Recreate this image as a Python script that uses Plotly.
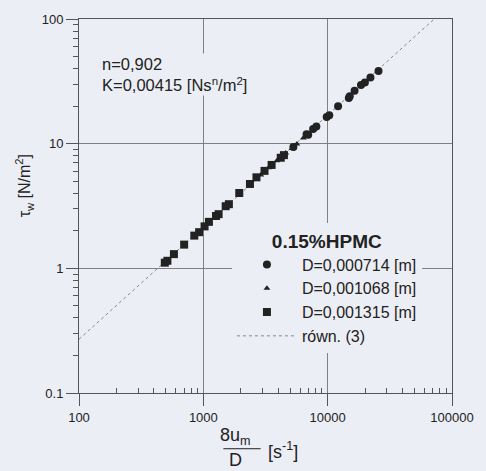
import plotly.graph_objects as go

# --- data ---
sq_x = [490, 514, 580, 701, 846, 925, 1023, 1109, 1264, 1327, 1513, 1605, 1945, 2371, 2675, 3106, 3542, 4194, 4449]
sq_y = [1.11, 1.15, 1.30, 1.55, 1.83, 1.95, 2.17, 2.36, 2.63, 2.72, 3.15, 3.27, 4.02, 4.75, 5.37, 6.05, 6.75, 7.71, 8.09]

tr_x = [2900, 3350, 3900, 4600, 5168, 5653, 6375]
tr_y = [5.6, 6.4, 7.3, 8.4, 9.14, 9.95, 11.1]

ci_x = [5300, 6768, 6975, 7640, 8110, 9820, 10300, 12130, 14790, 15060, 16460, 18540, 19920, 22080, 25640]
ci_y = [9.4, 11.9, 11.8, 13.1, 13.7, 16.4, 16.9, 20.0, 23.2, 24.0, 26.6, 29.5, 30.9, 33.9, 38.3]

fit_x = [100, 72000]
fit_y = [0.27, 100]

labels = ["D=0,000714 [m]", "D=0,001068 [m]", "D=0,001315 [m]", "równ. (3)"]

x_ticks = [100, 1000, 10000, 100000]
x_ticktext = ["100", "1000", "10000", "100000"]
y_ticks = [0.1, 1, 10, 100]
y_ticktext = ["0.1", "1", "10", "100"]
x_minor = [m * 10 ** e for e in (2, 3, 4) for m in range(2, 10)]
y_minor = [m * 10 ** e for e in (-1, 0, 1) for m in range(2, 10)]

BG = "#eceef5"
INK = "#222222"
FONT = "Liberation Sans, Arial, sans-serif"

fig = go.Figure()
fig.add_trace(go.Scatter(x=fit_x, y=fit_y, mode="lines", name=labels[3], legendrank=4,
                         line=dict(color="#888888", width=1, dash="dot")))
fig.add_trace(go.Scatter(x=ci_x, y=ci_y, mode="markers", name=labels[0], legendrank=1,
                         marker=dict(symbol="circle", size=8, color=INK)))
fig.add_trace(go.Scatter(x=tr_x, y=tr_y, mode="markers", name=labels[1], legendrank=2,
                         marker=dict(symbol="triangle-up", size=6, color=INK)))
fig.add_trace(go.Scatter(x=sq_x, y=sq_y, mode="markers", name=labels[2], legendrank=3,
                         marker=dict(symbol="square", size=8, color=INK)))

axis_common = dict(
    type="log", showgrid=True, gridcolor="#808080", gridwidth=1,
    showline=True, linecolor="#555555", linewidth=1, mirror=True,
    ticks="outside", ticklen=12, tickcolor="#555555", tickwidth=1,
    tickfont=dict(family=FONT, size=13, color="#222222"),
    zeroline=False, tickmode="array",
)

fig.update_xaxes(range=[2, 5], tickvals=x_ticks, ticktext=x_ticktext, **axis_common,
                 minor=dict(ticks="inside", ticklen=5, tickcolor="#555555", showgrid=False,
                            tickmode="array", tickvals=x_minor))
fig.update_yaxes(range=[-1, 2], tickvals=y_ticks, ticktext=y_ticktext, **axis_common,
                 minor=dict(ticks="outside", ticklen=5, tickcolor="#555555", showgrid=False,
                            tickmode="array", tickvals=y_minor))

fig.update_layout(
    width=486, height=471,
    margin=dict(l=79, r=24, t=12, b=78),
    paper_bgcolor=BG, plot_bgcolor=BG,
    font=dict(family=FONT, color="#222222"),
    showlegend=True,
    legend=dict(
        x=0.41, y=0.455, xanchor="left", yanchor="top",
        bgcolor=BG, borderwidth=0,
        title=dict(text="<b>0.15%HPMC</b>", font=dict(size=19, family=FONT), side="top center"),
        font=dict(size=16, family=FONT),
        itemwidth=60, traceorder="normal",
    ),
)

ann = [
    dict(x=0.055, y=0.91, xref="paper", yref="paper", xanchor="left", yanchor="top",
         text="n=0,902<br>K=0,00415 [Ns<sup>n</sup>/m<sup>2</sup>]", showarrow=False, align="left",
         font=dict(size=16.5, family=FONT), bgcolor=BG),
    dict(x=-0.145, y=0.555, xref="paper", yref="paper", xanchor="center", yanchor="middle",
         text="τ<sub>w</sub> [N/m<sup>2</sup>]", showarrow=False, textangle=-90,
         font=dict(size=16, family=FONT)),
    dict(x=0.42, y=-0.115, xref="paper", yref="paper", xanchor="center", yanchor="middle",
         text="8u<sub>m</sub>", showarrow=False, font=dict(size=18, family=FONT)),
    dict(x=0.42, y=-0.18, xref="paper", yref="paper", xanchor="center", yanchor="middle",
         text="D", showarrow=False, font=dict(size=18, family=FONT)),
    dict(x=0.5, y=-0.155, xref="paper", yref="paper", xanchor="left", yanchor="middle",
         text="[s<sup>-1</sup>]", showarrow=False, font=dict(size=18, family=FONT)),
]
fig.update_layout(annotations=ann)
fig.add_shape(type="line", xref="paper", yref="paper", x0=0.387, x1=0.487, y0=-0.149, y1=-0.149,
              line=dict(color="#222222", width=1))

fig.write_html("out.html")
